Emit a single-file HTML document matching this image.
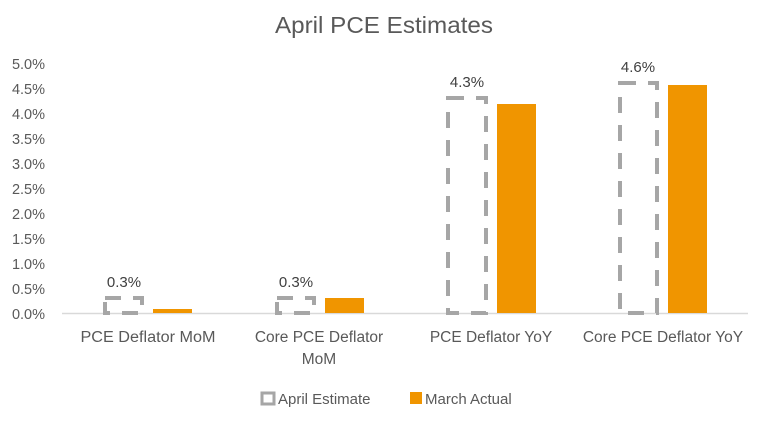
<!DOCTYPE html>
<html><head><meta charset="utf-8"><style>body{margin:0;background:#fff}</style></head><body>
<svg width="765" height="417" xmlns="http://www.w3.org/2000/svg" font-family="Liberation Sans, sans-serif">
<rect width="765" height="417" fill="#fff"/>
<text x="384" y="33" font-size="23" fill="#595959" text-anchor="middle" textLength="218" lengthAdjust="spacingAndGlyphs">April PCE Estimates</text>
<g font-size="14.5" fill="#595959" text-anchor="end">
<text x="45" y="319">0.0%</text><text x="45" y="294">0.5%</text><text x="45" y="269">1.0%</text>
<text x="45" y="244">1.5%</text><text x="45" y="219">2.0%</text><text x="45" y="194">2.5%</text>
<text x="45" y="169">3.0%</text><text x="45" y="144">3.5%</text><text x="45" y="119">4.0%</text>
<text x="45" y="94">4.5%</text><text x="45" y="69">5.0%</text>
</g>
<line x1="62" y1="313.5" x2="748" y2="313.5" stroke="#d9d9d9" stroke-width="1.5"/>
<g fill="none" stroke="#a6a6a6" stroke-width="4" stroke-dasharray="16 12">
<rect x="105" y="298" width="37" height="15"/>
<rect x="277" y="298" width="37" height="15"/>
<rect x="448" y="98" width="38" height="215"/>
<rect x="620" y="83" width="37" height="230"/>
</g>
<g fill="#f09500">
<rect x="153" y="309" width="39" height="4"/>
<rect x="325" y="298" width="39" height="15"/>
<rect x="497" y="104" width="39" height="209"/>
<rect x="668" y="85" width="39" height="228"/>
</g>
<g font-size="15" fill="#404040" text-anchor="middle">
<text x="124" y="287">0.3%</text><text x="296" y="287">0.3%</text>
<text x="467" y="87">4.3%</text><text x="638" y="72">4.6%</text>
</g>
<g font-size="15.5" fill="#595959" text-anchor="middle">
<text x="148" y="342" textLength="135" lengthAdjust="spacingAndGlyphs">PCE Deflator MoM</text>
<text x="319" y="342">Core PCE Deflator</text><text x="319" y="364">MoM</text>
<text x="491" y="342">PCE Deflator YoY</text>
<text x="663" y="342">Core PCE Deflator YoY</text>
</g>
<rect x="262" y="393" width="12" height="11" fill="none" stroke="#a6a6a6" stroke-width="3"/>
<text x="278" y="404" font-size="15" fill="#595959">April Estimate</text>
<rect x="410" y="392" width="12" height="12" fill="#f09500"/>
<text x="425" y="404" font-size="15" fill="#595959">March Actual</text>
</svg>
</body></html>
